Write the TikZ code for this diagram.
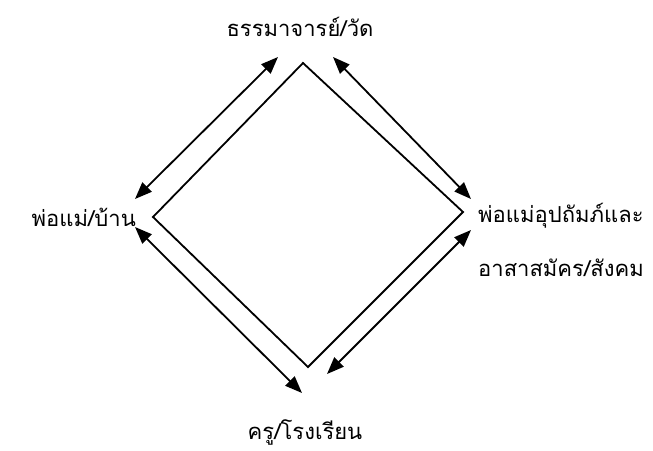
\documentclass[tikz,border=0pt]{standalone}
\usepackage{fontspec}
\newfontfamily\thaifont[Script=Thai]{Loma}
\usetikzlibrary{arrows.meta}

\begin{document}
\begin{tikzpicture}[x=1pt, y=-1pt,
  lbl/.style={font=\thaifont\fontsize{22}{26}\selectfont, inner sep=0pt},
  bi/.style={{Triangle[length=17pt,width=13pt]}-{Triangle[length=17pt,width=13pt]}, line width=1.8pt}]
\useasboundingbox (0,0) rectangle (653,450);

% 定义节点
\node[lbl] (wat) at (300, 27) {ธรรมาจารย์/วัด};
\node[lbl, anchor=east] (home) at (136, 217) {พ่อแม่/บ้าน};
\node[lbl, anchor=west] (soc1) at (478, 216) {พ่อแม่อุปถัมภ์และ};
\node[lbl, anchor=west] (soc2) at (478, 268) {อาสาสมัคร/สังคม};
\node[lbl] (school) at (305, 432) {ครู/โรงเรียน};

% 菱形顶点
\coordinate (t) at (303, 63);
\coordinate (l) at (153, 217);
\coordinate (b) at (308, 367);
\coordinate (r) at (463, 212);

% 箭头端点
\coordinate (a1) at (135, 199);
\coordinate (a2) at (278, 57);
\coordinate (a3) at (333, 57);
\coordinate (a4) at (471, 199);
\coordinate (a5) at (135, 227);
\coordinate (a6) at (302, 393);
\coordinate (a7) at (327, 374);
\coordinate (a8) at (471, 230);

% 连接节点
\draw[line width=1.8pt, line join=miter] (t) -- (r) -- (b) -- (l) -- cycle;
\draw[bi] (a1) -- (a2);
\draw[bi] (a3) -- (a4);
\draw[bi] (a5) -- (a6);
\draw[bi] (a7) -- (a8);

\end{tikzpicture}
\end{document}
